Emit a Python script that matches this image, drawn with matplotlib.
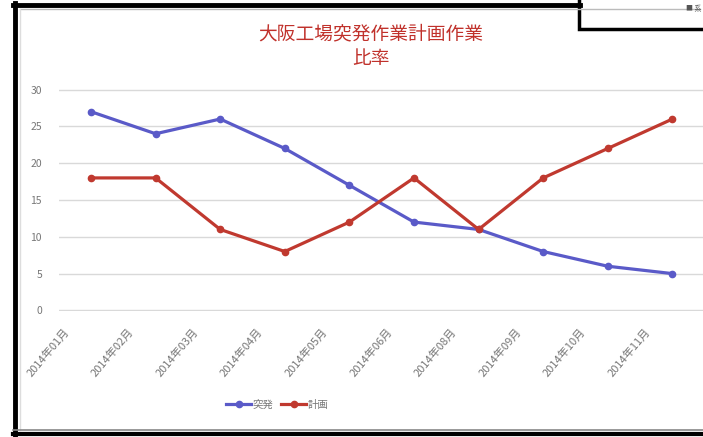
import matplotlib.pyplot as plt
import matplotlib.transforms as mtransforms
from matplotlib.lines import Line2D
from matplotlib.patches import Rectangle

plt.rcParams['font.family'] = ['Noto Sans CJK JP', 'DejaVu Sans']

months = ['2014年01月', '2014年02月', '2014年03月', '2014年04月', '2014年05月',
          '2014年06月', '2014年08月', '2014年09月', '2014年10月', '2014年11月']
toppatsu = [27, 24, 26, 22, 17, 12, 11, 8, 6, 5]   # 突発
keikaku = [18, 18, 11, 8, 12, 18, 11, 18, 22, 26]   # 計画
yticks = [0, 5, 10, 15, 20, 25, 30]

W, H = 703, 437
fig = plt.figure(figsize=(W / 100, H / 100), dpi=100)
fig.patch.set_facecolor('white')

# plot area in pixels: x 58.7..704.7, y 89..311
ax = fig.add_axes([58.7 / W, 1 - 311 / H, 646 / W, 222 / H])
x = list(range(len(months)))
ax.plot(x, toppatsu, color='#5a5ac8', lw=2.3, marker='o', ms=4.5, label='突発')
ax.plot(x, keikaku, color='#c0392f', lw=2.3, marker='o', ms=4.5, label='計画')

ax.set_xlim(-0.5, len(months) - 0.5)
ax.set_ylim(-0.08, 30.08)
ax.set_yticks(yticks)
ax.set_yticklabels([str(v) for v in yticks], fontsize=7.5, color='#777777')
ax.grid(axis='y', color='#d9d9d9', lw=1)
ax.set_axisbelow(True)
for s in ax.spines.values():
    s.set_visible(False)
ax.tick_params(length=0)
ax.tick_params(axis='y', pad=12)

ax.set_xticks(x)
ax.set_xticklabels(months, rotation=50, ha='right', rotation_mode='anchor',
                   fontsize=8, color='#777777')
ax.tick_params(axis='x', pad=11)
shift = mtransforms.ScaledTranslation(-28 / 100, 0, fig.dpi_scale_trans)
for lbl in ax.get_xticklabels():
    lbl.set_transform(lbl.get_transform() + shift)

ax.set_title('大阪工場突発作業計画作業\n比率', color='#c0312b', fontsize=13.5,
             linespacing=1.2, x=(371 - 58.7) / 646, pad=18)

fig.legend(loc='center', bbox_to_anchor=(277 / W, 1 - 405 / H), ncol=2,
           frameon=False, fontsize=7.5, handlelength=2.4, columnspacing=0.8,
           handletextpad=0.1, labelcolor='#777777')

# screenshot frame
def px_line(x0, y0, x1, y1, color, lw):
    fig.add_artist(Line2D([x0 / W, x1 / W], [1 - y0 / H, 1 - y1 / H],
                          color=color, lw=lw, transform=fig.transFigure))

px_line(20, 9, 700, 9, '#bbbbbb', 1)
px_line(20, 9, 20, 430, '#dddddd', 1)
px_line(15, 3, 15, 435, 'black', 3.5)
px_line(13, 5, 580, 5, 'black', 3.5)
px_line(13, 430, 703, 430, '#888888', 1.2)
px_line(13, 434, 703, 434, 'black', 3)
fig.add_artist(Rectangle((579 / W, 1 - 29 / H), 130 / W, 40 / H,
                         transform=fig.transFigure, facecolor='white',
                         edgecolor='black', lw=2.5))
fig.text(701 / W, 1 - 9 / H, '■ 系', fontsize=5, color='#555555',
         va='center', ha='right')

fig.savefig('out.png', dpi=100)
